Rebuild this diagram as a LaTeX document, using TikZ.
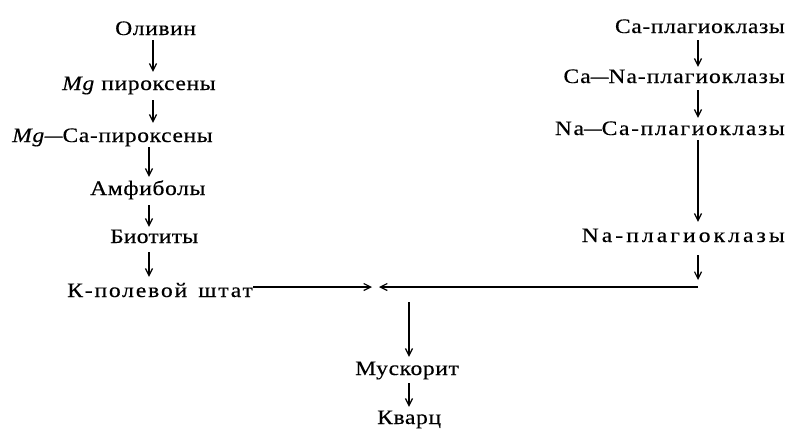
\documentclass[tikz,border=0pt]{standalone}
\usepackage{fontspec}
\setmainfont[FakeStretch=1.15,LetterSpace=3,FakeBold=0.4]{Liberation Serif}
\usetikzlibrary{arrows.meta}
\tikzset{
  lbl/.style={inner sep=0pt, text height=13pt, text depth=0pt, font=\fontsize{20.5}{24}\selectfont},
  arr/.style={line width=1.3pt, -{Straight Barb[length=7pt,width=7pt,line width=1.2pt]}},
  ln/.style={line width=1.3pt}
}
\newcommand{\shortdash}{\scalebox{0.75}[1]{—}}
\newcommand{\lsp}[1]{\addfontfeatures{LetterSpace=#1}}
\begin{document}
\begin{tikzpicture}[x=1pt,y=-1pt]
\useasboundingbox (0,0) rectangle (788,431);
% left column
\node[lbl,anchor=base west] (ol) at (115,35) {Оливин};
\node[lbl,anchor=base west] (mgp) at (62,90) {\textit{Mg} пироксены};
\node[lbl,anchor=base west] (mgca) at (12,142) {\textit{Mg}\shortdash Ca-пироксены};
\node[lbl,anchor=base west] (amf) at (90,195) {Амфиболы};
\node[lbl,anchor=base west] (bio) at (110,243) {\lsp{1}Биотиты};
\node[lbl,anchor=base west] (kp) at (67,297) {\lsp{9}К-полевой\, штат};
% right column
\node[lbl,anchor=base east] (cap) at (785,33) {Ca-плагиоклазы};
\node[lbl,anchor=base east] (cana) at (785,83) {\lsp{5}Ca\shortdash Na-плагиоклазы};
\node[lbl,anchor=base east] (naca) at (785,135) {\lsp{8}Na\shortdash Ca-плагиоклазы};
\node[lbl,anchor=base east] (nap) at (785,242) {\lsp{15}Na-плагиоклазы};
% bottom
\node[lbl,anchor=base west] (musk) at (355,375) {Мускорит};
\node[lbl,anchor=base west] (kv) at (377,424) {Кварц};
% guide coordinates
\coordinate (cA) at (153,0);
\coordinate (cB) at (149,0);
\coordinate (cR) at (698,0);
\coordinate (cM) at (409,0);
\coordinate (cornerR) at (698,287);
\coordinate (tipL) at (372,287);
\coordinate (tipR) at (379,287);
\coordinate (merge) at (409,287);
% left arrows
\draw[arr,shorten <=5pt,shorten >=5pt] (cA |- ol.south) -- (cA |- mgp.north);
\draw[arr,shorten <=10pt,shorten >=6pt] (cA |- mgp.south) -- (cA |- mgca.north);
\draw[arr,shorten <=5pt,shorten >=5pt] (cB |- mgca.south) -- (cB |- amf.north);
\draw[arr,shorten <=10pt,shorten >=3pt] (cB |- amf.south) -- (cB |- bio.north);
\draw[arr,shorten <=9pt,shorten >=7pt] (cB |- bio.south) -- (cB |- kp.north);
% right arrows
\draw[arr,shorten <=7pt,shorten >=3pt] (cR |- cap.south) -- (cR |- cana.north);
\draw[arr,shorten <=7pt,shorten >=4pt] (cR |- cana.south) -- (cR |- naca.north);
\draw[arr,shorten <=5pt,shorten >=7pt] (cR |- naca.south) -- (cR |- nap.north);
\draw[arr,shorten <=13pt,shorten >=7pt] (cR |- nap.south) -- (cornerR);
% horizontal
\draw[arr] (kp.east |- tipL) -- (tipL);
\draw[arr] (cornerR) -- (tipR);
% down
\draw[arr,shorten <=15pt,shorten >=5pt] (merge) -- (cM |- musk.north);
\draw[arr,shorten <=8pt,shorten >=4pt] (cM |- musk.south) -- (cM |- kv.north);
\end{tikzpicture}
\end{document}
